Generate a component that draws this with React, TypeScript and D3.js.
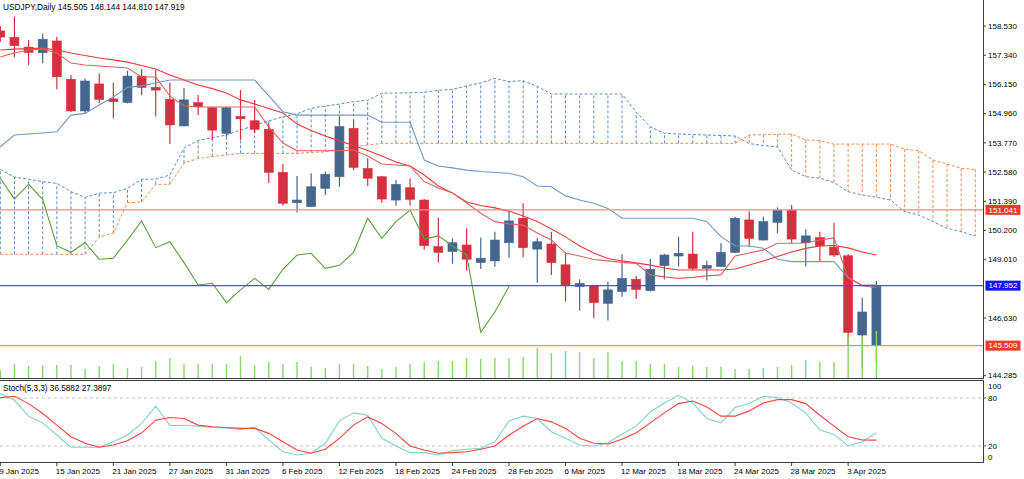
import React from "react";
import * as d3 from "d3";

// USDJPY daily, 9 Jan 2025 .. 7 Apr 2025
const days = [
  "9 Jan", "10 Jan", "13 Jan", "14 Jan", "15 Jan", "16 Jan", "17 Jan", "20 Jan", "21 Jan", "22 Jan",
  "23 Jan", "24 Jan", "27 Jan", "28 Jan", "29 Jan", "30 Jan", "31 Jan",
  "3 Feb", "4 Feb", "5 Feb", "6 Feb", "7 Feb", "10 Feb", "11 Feb", "12 Feb", "13 Feb", "14 Feb",
  "17 Feb", "18 Feb", "19 Feb", "20 Feb", "21 Feb", "24 Feb", "25 Feb", "26 Feb", "27 Feb", "28 Feb",
  "3 Mar", "4 Mar", "5 Mar", "6 Mar", "7 Mar", "10 Mar", "11 Mar", "12 Mar", "13 Mar", "14 Mar",
  "17 Mar", "18 Mar", "19 Mar", "20 Mar", "21 Mar", "24 Mar", "25 Mar", "26 Mar", "27 Mar", "28 Mar",
  "31 Mar", "1 Apr", "2 Apr", "3 Apr", "4 Apr", "7 Apr",
];

const opens = [
  158.33, 158.07, 157.67, 157.44, 157.92, 156.36, 155.07, 156.17, 155.56, 155.42,
  156.49, 156.03, 155.54, 154.46, 155.41, 155.2, 154.16, 154.84, 154.67, 154.32,
  152.57, 151.33, 151.17, 151.92, 152.39, 154.36, 152.73, 152.39, 151.44, 151.94,
  151.44, 149.54, 149.34, 149.61, 148.89, 148.96, 149.7, 150.7, 149.44, 149.65,
  148.8, 147.91, 147.94, 147.23, 147.71, 148.21, 147.75, 148.77, 149.16, 149.24,
  148.66, 148.73, 149.31, 150.63, 149.81, 150.53, 151.03, 149.7, 149.91, 149.52,
  149.17, 145.94, 145.505,
];
const highs = [
  158.53, 158.91, 157.96, 158.23, 158.09, 156.53, 156.38, 156.6, 156.22, 156.71,
  156.78, 156.74, 156.22, 156.0, 155.72, 155.23, 155.23, 155.92, 155.52, 154.57,
  152.91, 152.42, 152.53, 152.6, 154.84, 154.7, 153.14, 152.42, 152.26, 152.33,
  151.48, 150.72, 149.88, 150.29, 149.91, 150.15, 150.99, 151.31, 149.88, 150.15,
  149.27, 148.21, 147.98, 148.11, 149.23, 148.35, 149.04, 149.24, 149.95, 150.15,
  148.97, 149.68, 150.76, 150.97, 150.76, 151.14, 151.24, 150.25, 150.15, 150.52,
  149.24, 147.46, 148.144,
];
const lows = [
  157.88, 157.26, 156.94, 157.01, 155.95, 155.03, 154.97, 155.38, 154.77, 155.38,
  155.72, 154.84, 153.72, 154.44, 154.9, 153.89, 154.02, 153.89, 154.17, 152.13,
  151.21, 150.93, 151.16, 151.65, 151.98, 152.66, 152.01, 151.33, 151.21, 151.21,
  149.41, 148.9, 148.84, 148.56, 148.63, 148.72, 149.09, 149.11, 148.07, 148.39,
  147.3, 146.93, 146.62, 146.53, 147.5, 147.41, 147.71, 148.21, 148.73, 148.59,
  148.16, 148.72, 149.28, 149.54, 149.79, 150.09, 149.68, 148.73, 148.93, 149.11,
  145.51, 144.6, 144.81,
];
const closes = [
  158.08, 157.73, 157.46, 157.99, 156.46, 155.07, 156.29, 155.54, 155.45, 156.49,
  156.03, 155.92, 154.5, 155.52, 155.24, 154.29, 155.2, 154.75, 154.32, 152.57,
  151.31, 151.44, 151.98, 152.49, 154.43, 152.77, 152.33, 151.48, 152.08, 151.47,
  149.58, 149.31, 149.7, 149.03, 149.07, 149.81, 150.59, 149.5, 149.74, 148.89,
  147.98, 148.05, 147.26, 147.78, 148.25, 147.8, 148.62, 149.2, 149.27, 148.66,
  148.78, 149.31, 150.7, 149.88, 150.56, 151.03, 149.85, 149.98, 149.57, 149.2,
  146.05, 146.88, 147.919,
];
// relative tick volume
const volumes = [
  8, 14, 12, 13, 13, 13, 9, 12, 14, 10, 11, 17, 20, 14, 14, 14, 14, 22, 13, 16,
  14, 16, 11, 10, 14, 14, 12, 9, 11, 14, 16, 17, 17, 20, 19, 20, 20, 21, 30, 25,
  27, 26, 20, 26, 17, 17, 14, 14, 11, 12, 11, 11, 9, 9, 10, 11, 13, 18, 16, 16,
  41, 42, 47,
];

const tenkan = [
  157.27, 157.43, 157.55, 157.59, 157.43, 157.02, 156.94, 156.9, 156.86, 156.82,
  156.45, 156.45, 155.68, 155.27, 155.23, 155.23, 155.23, 155.23, 155.23, 154.42,
  153.76, 153.45, 153.45, 153.45, 153.45, 153.48, 153.23, 152.91, 152.87, 152.83,
  152.19, 151.93, 151.73, 151.32, 150.9, 150.56, 150.47, 150.42, 150.1, 149.81,
  149.28, 149.16, 149.02, 148.96, 148.9, 148.86, 148.39, 148.31, 148.25, 148.29,
  148.35, 148.39, 149.16, 149.28, 149.41, 149.68, 149.68, 149.69, 149.81, 149.9,
  148.27, 147.95, 147.87,
];
const kijun = [
  153.61, 154.09, 154.13, 154.17, 154.22, 154.9, 154.97, 155.31, 155.64, 156.03,
  156.09, 156.21, 156.33, 156.33, 156.33, 156.33, 156.33, 156.33, 156.33, 155.68,
  155.04, 154.9, 154.9, 154.9, 154.9, 154.9, 154.9, 154.61, 154.61, 154.61,
  153.07, 152.83, 152.75, 152.66, 152.6, 152.56, 152.53, 152.39, 152.01, 151.98,
  151.61, 151.44, 151.31, 151.1, 150.7, 150.7, 150.7, 150.7, 150.7, 150.7,
  150.56, 149.95, 149.57, 149.57, 149.48, 149.03, 148.93, 148.93, 148.93, 148.93,
  148.27, 147.98, 147.98,
];
const movingAvg = [
  157.55, 157.59, 157.61, 157.63, 157.55, 157.43, 157.33, 157.23, 157.15, 157.06,
  156.92, 156.78, 156.53, 156.33, 156.13, 155.98, 155.8, 155.52, 155.35, 155.17,
  154.99, 154.54, 154.27, 154.05, 153.85, 153.66, 153.46, 153.23, 152.99, 152.83,
  152.46, 152.01, 151.73, 151.36, 151.22, 151.12, 150.99, 150.79, 150.57, 150.26,
  149.94, 149.57, 149.28, 149.06, 148.96, 148.88, 148.79, 148.67, 148.59, 148.59,
  148.59, 148.59, 148.63, 148.79, 148.96, 149.14, 149.32, 149.47, 149.57, 149.59,
  149.49, 149.32, 149.2,
];
// cloud, already shifted forward (runs past the last bar)
const spanA = [
  149.23, 149.23, 149.23, 149.23, 149.23, 149.23, 149.23, 149.94, 150.09, 151.33,
  151.36, 152.08, 152.08, 152.95, 153.13, 153.21, 153.28, 153.34, 153.34, 153.34,
  153.34, 153.34, 153.38, 153.4, 153.54, 153.62, 153.68, 153.75, 153.75, 153.75,
  153.75, 153.75, 153.75, 153.75, 153.75, 153.75, 153.75, 153.75, 153.75, 153.75,
  153.75, 153.75, 153.75, 153.75, 153.75, 153.75, 153.75, 153.75, 153.75, 153.75,
  153.75, 153.75, 153.75, 154.09, 154.1, 154.12, 154.13, 153.89, 153.86, 153.72,
  153.72, 153.72, 153.72, 153.72, 153.51, 153.45, 153.07, 152.91, 152.73, 152.69,
];
const spanB = [
  152.69, 152.37, 152.29, 152.19, 152.12, 151.78, 151.55, 151.72, 151.74, 151.92,
  152.29, 152.29, 152.46, 153.56, 153.87, 153.97, 154.09, 154.29, 154.48, 154.66,
  154.84, 154.95, 155.18, 155.27, 155.35, 155.45, 155.5, 155.79, 155.8, 155.81,
  155.83, 155.91, 155.95, 156.09, 156.21, 156.4, 156.27, 156.3, 156.07, 155.76,
  155.76, 155.76, 155.76, 155.76, 155.76, 155.03, 154.42, 154.16, 154.13, 154.11,
  154.09, 154.07, 154.05, 153.74, 153.66, 153.61, 152.66, 152.39, 152.33, 152.15,
  151.78, 151.65, 151.55, 151.44, 150.97, 150.83, 150.56, 150.29, 150.15, 149.98,
];
const chikouShift = 26;

const stochK = [
  85.5, 77.1, 57.3, 48.9, 33.7, 18.4, 18.4, 18.4, 25.3, 33.7,
  48.2, 69.7, 45.7, 45.7, 44.8, 43.2, 42.7, 40.7, 43.2, 27.5,
  12.9, 8.8, 10.9, 23.4, 51.4, 61.4, 58.5, 29.6, 20.0, 11.7,
  11.7, 8.8, 14.2, 15.9, 17.1, 25.3, 51.4, 57.3, 54.4, 37.8,
  29.6, 21.2, 20.0, 24.1, 34.9, 44.8, 62.6, 73.8, 83.4, 73.8,
  54.4, 48.9, 68.1, 73.0, 82.1, 80.5, 73.8, 61.4, 39.9, 34.5,
  20.0, 25.3, 36.59,
];
const stochD = [
  80.5, 82.1, 73.0, 60.6, 46.1, 31.6, 23.4, 18.4, 21.2, 26.6,
  36.5, 52.3, 55.7, 54.4, 46.1, 44.0, 43.2, 42.0, 42.0, 35.8,
  25.3, 15.0, 10.9, 15.9, 29.6, 46.1, 56.4, 48.2, 35.8, 20.0,
  15.0, 10.9, 11.7, 12.9, 15.9, 20.0, 33.7, 44.8, 54.4, 50.2,
  42.0, 29.6, 23.4, 22.5, 28.3, 36.5, 48.9, 61.4, 73.0, 76.3,
  68.8, 57.3, 57.3, 63.9, 73.8, 78.0, 78.0, 73.0, 58.5, 44.8,
  31.6, 27.5, 27.39,
];

const priceTicks = [158.53, 157.34, 156.15, 154.96, 153.77, 152.58, 151.39, 150.2, 149.01, 146.63, 144.285];
const hLines = [
  { price: 151.041, color: "#f28b82", box: "#f2392b" },
  { price: 147.952, color: "#4a4aff", box: "#1414f5" },
  { price: 145.509, color: "#f28b82", box: "#f2392b" },
];
const stochLevels = [80, 20];

const FONT = "'Liberation Sans', Arial, sans-serif";
const BULL = "#44668f";
const BEAR = "#d2313f";
const AXIS = "#3c3c3c";

export default function App() {
  const W = 1024;
  const H = 479;
  const plotR = 983;

  const x = d3.scaleLinear().domain([0, 62]).range([0.3, 876.4]);
  const y = d3.scaleLinear().domain([144.19, 159.59]).range([378, 0]);
  const yVol = d3.scaleLinear().domain([0, 50]).range([378, 328]);
  const yS = d3.scaleLinear().domain([0, 100]).range([462, 382]);

  const priceLine = d3
    .line<number>()
    .x((_, i) => x(i))
    .y((v) => y(v));
  const stochLine = d3
    .line<number>()
    .x((_, i) => x(i))
    .y((v) => yS(v));

  const chikou = closes.slice(chikouShift);

  return (
    <svg
      width={W}
      height={H}
      style={{ position: "absolute", left: 0, top: 0, background: "#fff" }}
      fontFamily={FONT}
    >
      <defs>
        <clipPath id="main">
          <rect x={0} y={0} width={plotR} height={378} />
        </clipPath>
        <clipPath id="stoch">
          <rect x={0} y={381} width={plotR} height={81} />
        </clipPath>
      </defs>
      <rect width={W} height={H} fill="#fff" />

      <g clipPath="url(#main)">
        {/* cloud hatching */}
        {spanA.map((a, i) => {
          const b = spanB[i];
          return (
            <line
              key={"h" + i}
              x1={x(i)}
              x2={x(i)}
              y1={y(a)}
              y2={y(b)}
              stroke={b > a ? "#5b8ccc" : "#ec8d4e"}
              strokeWidth={1}
              strokeDasharray="3,2"
            />
          );
        })}
        <path d={priceLine(spanB) || ""} fill="none" stroke="#5b8ccc" strokeWidth={1} strokeDasharray="3,2" />
        <path d={priceLine(spanA) || ""} fill="none" stroke="#ec8d4e" strokeWidth={1} strokeDasharray="3,2" />

        {/* candles */}
        {closes.map((c, i) => {
          const o = opens[i];
          const col = c >= o ? BULL : BEAR;
          const top = y(Math.max(o, c));
          const bot = y(Math.min(o, c));
          return (
            <g key={"c" + i}>
              <line x1={x(i)} x2={x(i)} y1={y(highs[i])} y2={y(lows[i])} stroke={col} strokeWidth={1.2} />
              <rect
                x={x(i) - 4.5}
                y={top}
                width={9}
                height={Math.max(1.5, bot - top)}
                fill={col}
                stroke={col}
                strokeWidth={0.6}
              />
            </g>
          );
        })}

        {/* volumes */}
        {volumes.map((v, i) => (
          <line key={"v" + i} x1={x(i)} x2={x(i)} y1={yVol(0)} y2={yVol(v)} stroke="#86d66e" strokeWidth={1.4} />
        ))}

        {/* indicator lines */}
        <path d={priceLine(kijun) || ""} fill="none" stroke="#7097c7" strokeWidth={1.1} />
        <path d={priceLine(movingAvg) || ""} fill="none" stroke="#ee3a3a" strokeWidth={1.1} />
        <path d={priceLine(tenkan) || ""} fill="none" stroke="#e06262" strokeWidth={1.1} />
        <path d={priceLine(chikou) || ""} fill="none" stroke="#5a9f3c" strokeWidth={1.1} />

        {hLines.map((h) => (
          <line key={"hl" + h.price} x1={0} x2={plotR} y1={y(h.price)} y2={y(h.price)} stroke={h.color} strokeWidth={1.3} />
        ))}
      </g>

      {/* title */}
      <text x={3} y={9.5} fontSize={8.3} fill="#000">
        USDJPY,Daily  145.505 148.144 144.810 147.919
      </text>

      {/* price axis */}
      <line x1={plotR + 0.5} x2={plotR + 0.5} y1={0} y2={379} stroke={AXIS} />
      {priceTicks.map((p) => (
        <g key={"pt" + p}>
          <line x1={plotR} x2={plotR + 3} y1={y(p)} y2={y(p)} stroke={AXIS} />
          <text x={988} y={y(p)} dy="0.35em" fontSize={8} fill="#000">
            {p.toFixed(3)}
          </text>
        </g>
      ))}
      {hLines.map((h) => (
        <g key={"hb" + h.price}>
          <rect x={985.5} y={y(h.price) - 5} width={35} height={10} fill={h.box} />
          <text x={1003} y={y(h.price)} dy="0.35em" fontSize={8} fill="#fff" textAnchor="middle">
            {h.price.toFixed(3)}
          </text>
        </g>
      ))}

      {/* pane separator */}
      <line x1={0} x2={plotR + 1} y1={378.5} y2={378.5} stroke={AXIS} />
      <line x1={0} x2={plotR + 1} y1={380.5} y2={380.5} stroke={AXIS} />

      {/* stochastic pane */}
      {stochLevels.map((l) => (
        <line key={"sl" + l} x1={0} x2={plotR} y1={yS(l)} y2={yS(l)} stroke="#c4c4c4" strokeDasharray="3,3" />
      ))}
      <g clipPath="url(#stoch)">
        <path d={stochLine(stochK) || ""} fill="none" stroke="#86d0c8" strokeWidth={1.1} />
        <path d={stochLine(stochD) || ""} fill="none" stroke="#f0463c" strokeWidth={1.1} />
      </g>
      <text x={3} y={391} fontSize={8.2} fill="#000">
        Stoch(5,3,3) 36.5882 27.3897
      </text>
      <line x1={plotR + 0.5} x2={plotR + 0.5} y1={380} y2={463} stroke={AXIS} />
      <line x1={0} x2={plotR + 1} y1={462.5} y2={462.5} stroke={AXIS} />
      <text x={988} y={yS(100) + 7} fontSize={8} fill="#000">100</text>
      {stochLevels.map((l) => (
        <g key={"sll" + l}>
          <line x1={plotR} x2={plotR + 3} y1={yS(l)} y2={yS(l)} stroke={AXIS} />
          <text x={988} y={yS(l)} dy="0.35em" fontSize={8} fill="#000">{l}</text>
        </g>
      ))}
      <text x={988} y={yS(0) - 2} fontSize={8} fill="#000">0</text>

      {/* date axis */}
      {days.map((d, i) =>
        i % 4 === 0 ? (
          <g key={"d" + i}>
            <line x1={x(i)} x2={x(i)} y1={462} y2={466} stroke={AXIS} />
            <text x={x(i) - 1} y={474} fontSize={8} fill="#000">
              {d + " 2025"}
            </text>
          </g>
        ) : null
      )}
    </svg>
  );
}
